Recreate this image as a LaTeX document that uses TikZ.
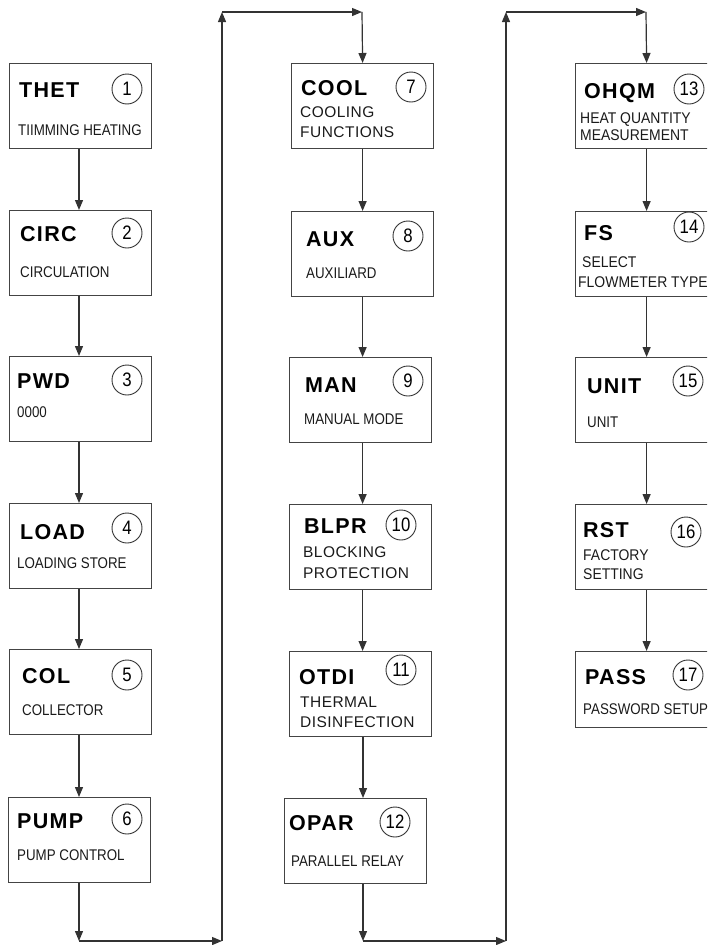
\documentclass[tikz,border=0pt]{standalone}
\usepackage{fontspec}
\usetikzlibrary{arrows.meta,calc}
\newfontfamily\ttlfont[LetterSpace=6]{Liberation Sans}
\newfontfamily\narrowfont[FakeStretch=0.86]{Liberation Sans}
\newfontfamily\midfont[FakeStretch=0.9]{Liberation Sans}
\newfontfamily\widefont[LetterSpace=3]{Liberation Sans}
\definecolor{boxgray}{HTML}{444444}
\definecolor{subgray}{HTML}{1A1A1A}
\definecolor{linegray}{HTML}{333333}
\tikzset{
  box/.style={draw=boxgray, line width=1.2pt, minimum width=142pt, minimum height=85pt, anchor=north west, inner sep=0pt},
  ttl/.style={anchor=base west, inner sep=0pt, font=\ttlfont\bfseries\fontsize{21.5}{21.5}\selectfont},
  sub/.style={anchor=base west, inner sep=0pt, text=subgray, font=\narrowfont\fontsize{15.5}{15.5}\selectfont},
  subb/.style={anchor=base west, inner sep=0pt, text=subgray, font=\widefont\fontsize{15.5}{15.5}\selectfont},
  subc/.style={anchor=base west, inner sep=0pt, text=subgray, font=\midfont\fontsize{15.5}{15.5}\selectfont},
  num/.style={draw=linegray, circle, line width=0.9pt, minimum size=30pt, inner sep=0pt, font=\narrowfont\fontsize{19.5}{19.5}\selectfont},
  conn/.style={draw=linegray, line width=1.2pt, -{Triangle[length=10pt,width=8pt]}}
}
\begin{document}
\begin{tikzpicture}[x=1pt,y=-1pt]
\useasboundingbox (0,0) rectangle (707,945);
\clip (0,0) rectangle (707,945);
% column 1
\node[box] (b1) at (9,63) {};
\node[ttl] (t1) at (19,97) {THET};
\node[sub] (s1) at (18,135) {TIIMMING HEATING};
\node[num] (n1) at (127,89) {1};
\node[box] (b2) at (9,210) {};
\node[ttl] (t2) at (20,241) {CIRC};
\node[sub] (s2) at (20,277) {CIRCULATION};
\node[num] (n2) at (127,233) {2};
\node[box] (b3) at (9,356) {};
\node[ttl] (t3) at (17,388) {PWD};
\node[sub] (s3) at (17,417) {0000};
\node[num] (n3) at (127,380) {3};
\node[box] (b4) at (9,503) {};
\node[ttl] (t4) at (20,539) {LOAD};
\node[sub] (s4) at (17,568) {LOADING STORE};
\node[num] (n4) at (127,528) {4};
\node[box] (b5) at (9,649) {};
\node[ttl] (t5) at (22,683) {COL};
\node[sub] (s5) at (22,715) {COLLECTOR};
\node[num] (n5) at (127,675) {5};
\node[box] (b6) at (8,797) {};
\node[ttl] (t6) at (17,828) {PUMP};
\node[sub] (s6) at (17,860) {PUMP CONTROL};
\node[num] (n6) at (127,819) {6};
% column 2
\node[box] (b7) at (291,63) {};
\node[ttl] (t7) at (301,95) {COOL};
\node[subb] (s7a) at (300,117) {COOLING};
\node[subb] (s7b) at (300,137) {FUNCTIONS};
\node[num] (n7) at (411,87) {7};
\node[box] (b8) at (291,211) {};
\node[ttl] (t8) at (306,246) {AUX};
\node[sub] (s8) at (306,278) {AUXILIARD};
\node[num] (n8) at (408,236) {8};
\node[box] (b9) at (289,357) {};
\node[ttl] (t9) at (305,392) {MAN};
\node[sub] (s9) at (304,424) {MANUAL MODE};
\node[num] (n9) at (408,381) {9};
\node[box] (b10) at (289,504) {};
\node[ttl] (t10) at (304,533) {BLPR};
\node[subb] (s10a) at (303,557) {BLOCKING};
\node[subb] (s10b) at (303,578) {PROTECTION};
\node[num] (n10) at (401,525) {10};
\node[box] (b11) at (289,651) {};
\node[ttl] (t11) at (299,684) {OTDI};
\node[subb] (s11a) at (300,707) {THERMAL};
\node[subb] (s11b) at (300,727) {DISINFECTION};
\node[num] (n11) at (401,670) {11};
\node[box] (b12) at (284,798) {};
\node[ttl] (t12) at (289,830) {OPAR};
\node[sub] (s12) at (291,866) {PARALLEL RELAY};
\node[num] (n12) at (395,822) {12};
% column 3
\node[box] (b13) at (575,63) {};
\node[ttl] (t13) at (584,98) {OHQM};
\node[subc] (s13a) at (580,123) {HEAT QUANTITY};
\node[subc] (s13b) at (580,140) {MEASUREMENT};
\node[num] (n13) at (689,89) {13};
\node[box] (b14) at (575,211) {};
\node[ttl] (t14) at (584,240) {FS};
\node[subc] (s14a) at (582,267) {SELECT};
\node[subc] (s14b) at (578,287) {FLOWMETER TYPE};
\node[num] (n14) at (689,227) {14};
\node[box] (b15) at (575,357) {};
\node[ttl] (t15) at (587,393) {UNIT};
\node[sub] (s15) at (587,427) {UNIT};
\node[num] (n15) at (688,381) {15};
\node[box] (b16) at (575,504) {};
\node[ttl] (t16) at (583,537) {RST};
\node[subc] (s16a) at (583,560) {FACTORY};
\node[subc] (s16b) at (583,579) {SETTING};
\node[num] (n16) at (686,532) {16};
\node[box, minimum height=76pt] (b17) at (575,651) {};
\node[ttl] (t17) at (585,684) {PASS};
\node[sub] (s17) at (583,714) {PASSWORD SETUP};
\node[num] (n17) at (688,675) {17};
% loop coordinates
\coordinate (c1) at (79,941);
\coordinate (c2) at (222,941);
\coordinate (c3) at (222,12);
\coordinate (c4) at (362,12);
\coordinate (c5) at (363,941);
\coordinate (c6) at (506,941);
\coordinate (c7) at (506,12);
\coordinate (c8) at (646,12);
% connectors column 1
\draw[conn] (b1.south -| c1) -- (b2.north -| c1);
\draw[conn] (b2.south -| c1) -- (b3.north -| c1);
\draw[conn] (b3.south -| c1) -- (b4.north -| c1);
\draw[conn] (b4.south -| c1) -- (b5.north -| c1);
\draw[conn] (b5.south -| c1) -- (b6.north -| c1);
\draw[conn] (b6.south -| c1) -- (c1);
\draw[conn] (c1) -- (c2);
\draw[conn] (c2) -- (c3);
\draw[conn] (c3) -- (c4);
\draw[conn] (c4) -- (b7.north);
% column 2
\draw[conn] (b7.south) -- (b8.north);
\draw[conn] (b8.south) -- (b9.north -| b8.south);
\draw[conn] (b9.south -| b8.south) -- (b10.north -| b8.south);
\draw[conn] (b10.south -| b8.south) -- (b11.north -| b8.south);
\draw[conn] (b11.south -| c5) -- (b12.north -| c5);
\draw[conn] (b12.south -| c5) -- (c5);
\draw[conn] (c5) -- (c6);
\draw[conn] (c6) -- (c7);
\draw[conn] (c7) -- (c8);
\draw[conn] (c8) -- (b13.north);
% column 3
\draw[conn] (b13.south) -- (b14.north);
\draw[conn] (b14.south) -- (b15.north);
\draw[conn] (b15.south) -- (b16.north);
\draw[conn] (b16.south) -- (b17.north);
\end{tikzpicture}
\end{document}
